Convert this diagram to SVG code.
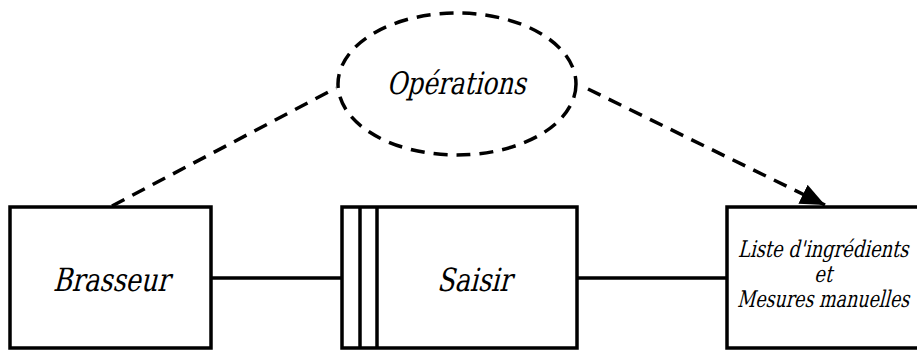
<svg xmlns="http://www.w3.org/2000/svg" width="917" height="352" viewBox="0 0 917 352">
  <style>
    .box { fill: #fff; stroke: #000; stroke-width: 3.5; }
    .link { fill: none; stroke: #000; stroke-width: 3.5; }
    .dash { fill: none; stroke: #000; stroke-width: 3.5; stroke-dasharray: 14 9; }
    /* serif labels, slanted and narrowed by a transform */
    .lbl { font-family: "DejaVu Serif", "Liberation Serif", serif; font-style: normal; fill: #000; text-anchor: middle; }
  </style>
  <defs>
    <marker id="arrow" viewBox="0 0 10 10" refX="10" refY="5" markerWidth="7" markerHeight="6" markerUnits="strokeWidth" orient="auto" preserveAspectRatio="none">
      <path d="M0,0 L10,5 L0,10 Z" fill="#000"/>
    </marker>
  </defs>

  <g id="connectors">
    <line class="link" x1="211" y1="278" x2="342" y2="278"/>
    <line class="link" x1="577" y1="278" x2="727" y2="278"/>
    <line class="dash" x1="112" y1="206" x2="336" y2="88"/>
    <line class="dash" x1="588" y1="89" x2="825" y2="205" marker-end="url(#arrow)"/>
  </g>

  <g id="brasseur">
    <rect class="box" x="10" y="207" width="201" height="141"/>
    <text class="lbl" transform="translate(111 291) skewX(-14) scale(0.8 1)" font-size="32">Brasseur</text>
  </g>

  <g id="saisir">
    <rect class="box" x="342" y="207" width="235" height="141"/>
    <line class="link" x1="360" y1="207" x2="360" y2="348"/>
    <line class="link" x1="377" y1="207" x2="377" y2="348"/>
    <text class="lbl" transform="translate(474 291) skewX(-14) scale(0.8 1)" font-size="32">Saisir</text>
  </g>

  <g id="liste">
    <rect class="box" x="727" y="207" width="210" height="141"/>
    <text class="lbl" transform="translate(823 257) skewX(-14) scale(0.78 1)" font-size="23">Liste d'ingrédients</text>
    <text class="lbl" transform="translate(823 282) skewX(-14) scale(0.78 1)" font-size="23">et</text>
    <text class="lbl" transform="translate(823 307) skewX(-14) scale(0.76 1)" font-size="23">Mesures manuelles</text>
  </g>

  <g id="operations">
    <ellipse class="dash" cx="457" cy="84" rx="119" ry="71"/>
    <text class="lbl" transform="translate(456 94) skewX(-14) scale(0.8 1)" font-size="31">Opérations</text>
  </g>
</svg>
